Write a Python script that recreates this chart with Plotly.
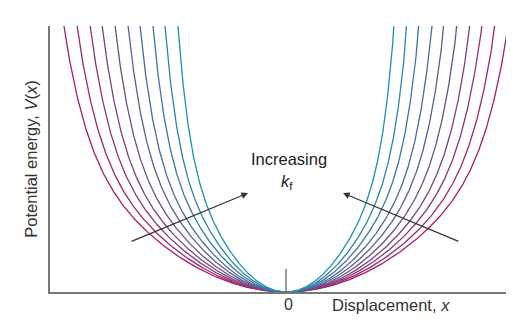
import numpy as np
import plotly.graph_objects as go

# Force constants k_f of the family of potential wells (softest -> stiffest)
force_constants = [0.231, 0.261, 0.297, 0.337, 0.390, 0.457, 0.535, 0.644, 0.779, 0.977]

# Well shape in reduced coordinate s = sqrt(k_f) * x:
# harmonic term s^2/2 plus a steep repulsive wall gamma * s^10
wall_strength = 0.223
wall_power = 10

# Colour ramp from the softest well (magenta) to the stiffest (teal)
color_soft = (168, 28, 104)
color_stiff = (30, 146, 176)

x_range = [-2.36, 2.20]
v_range = [0, 1.0]


def potential(x, k):
    s = np.sqrt(k) * x
    return 0.5 * s ** 2 + wall_strength * s ** wall_power


fig = go.Figure()

n = len(force_constants)
for i, k in enumerate(force_constants):
    t = i / (n - 1)
    rgb = tuple(round(a + (b - a) * t) for a, b in zip(color_soft, color_stiff))
    x_lim = 1.12 / np.sqrt(k)
    x = np.linspace(-x_lim, x_lim, 801)
    fig.add_trace(go.Scatter(
        x=x, y=potential(x, k), mode="lines",
        line=dict(color="rgb(%d,%d,%d)" % rgb, width=1.3),
        hoverinfo="skip", showlegend=False,
    ))

# small vertical marker at the equilibrium position
fig.add_shape(type="line", x0=0, x1=0, y0=0, y1=0.087,
              xref="x", yref="y", line=dict(color="#666666", width=1.3))

fig.add_annotation(x=0, y=0, xref="x", yref="y", text="0", showarrow=False,
                   yshift=-12, xshift=2, font=dict(size=16, color="#333333"))
fig.add_annotation(x=0.44, y=0, xref="x", yref="y", text="Displacement, <i>x</i>",
                   showarrow=False, xanchor="left", yshift=-13,
                   font=dict(size=16.5, color="#333333"))

fig.add_annotation(x=0.03, y=0.50, xref="x", yref="y", text="Increasing",
                   showarrow=False, font=dict(size=16.5, color="#222222"))
fig.add_annotation(x=0.01, y=0.415, xref="x", yref="y",
                   text="<i>k</i><sub>f</sub>",
                   showarrow=False, font=dict(size=16.5, color="#222222"))

# arrows showing the direction of increasing force constant
arrow_style = dict(showarrow=True, arrowhead=2, arrowsize=1.1, arrowwidth=1.2,
                   arrowcolor="#333333", text="", xref="x", yref="y",
                   axref="x", ayref="y")
fig.add_annotation(x=-0.38, y=0.372, ax=-1.56, ay=0.188, **arrow_style)
fig.add_annotation(x=0.57, y=0.372, ax=1.74, ay=0.188, **arrow_style)

fig.update_xaxes(range=x_range, showline=True, linecolor="#777777", linewidth=1.6,
                 showgrid=False, zeroline=False, showticklabels=False, ticks="")
fig.update_yaxes(range=v_range, showline=True, linecolor="#777777", linewidth=1.6,
                 showgrid=False, zeroline=False, showticklabels=False, ticks="",
                 title=dict(text="Potential energy, <i>V</i>(<i>x</i>)",
                            font=dict(size=16.5, color="#333333"), standoff=6))

fig.update_layout(
    width=518, height=328,
    margin=dict(l=50, r=12, t=26, b=36),
    paper_bgcolor="white", plot_bgcolor="white",
    font=dict(family="Liberation Sans, Arial, sans-serif"),
)

fig.write_html("out.html")
